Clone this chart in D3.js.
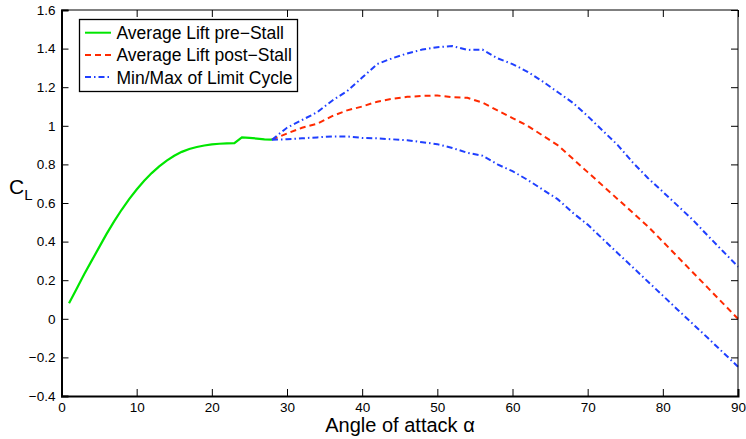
<!DOCTYPE html>
<html><head><meta charset="utf-8">
<script src="https://cdn.jsdelivr.net/npm/d3@7"></script>
<style>body{margin:0;background:#fff}svg{display:block}text{font-family:"Liberation Sans",Arial,Helvetica,sans-serif}</style>
</head><body>
<svg id="c" width="746" height="439"></svg>
<script>
const preX = [1,2,3,4,5,6,7,8,9,10,11,12,13,14,15,16,17,18,19,20,21,22,23,24,25,26,27,28];
const preY = [0.08,0.155,0.23,0.30,0.37,0.44,0.505,0.565,0.62,0.67,0.715,0.755,0.79,0.82,0.845,0.865,0.88,0.89,0.898,0.904,0.907,0.909,0.91,0.94,0.937,0.934,0.93,0.928];
const postX = [28,30,32,34,36,38,40,42,44,46,48,50,52,54,56,58,60,62,64,66,68,70,72,74,76,78,80,82,84,86,88,90];
const avgY = [0.928,0.96,0.99,1.01,1.05,1.08,1.10,1.125,1.14,1.15,1.155,1.157,1.148,1.145,1.12,1.08,1.04,1.0,0.95,0.90,0.83,0.76,0.69,0.62,0.55,0.479,0.40,0.32,0.24,0.16,0.08,0.0];
const maxY = [0.928,0.99,1.03,1.07,1.13,1.18,1.25,1.32,1.35,1.375,1.395,1.407,1.413,1.393,1.395,1.35,1.32,1.28,1.23,1.175,1.12,1.05,0.975,0.90,0.81,0.73,0.658,0.585,0.512,0.43,0.35,0.27];
const minY = [0.928,0.93,0.935,0.94,0.945,0.945,0.937,0.935,0.93,0.925,0.915,0.905,0.885,0.86,0.845,0.80,0.765,0.72,0.67,0.62,0.55,0.488,0.414,0.34,0.267,0.193,0.12,0.046,-0.027,-0.10,-0.174,-0.248];
const xTicks = [0,10,20,30,40,50,60,70,80,90];
const yTicks = [-0.4,-0.2,0,0.2,0.4,0.6,0.8,1,1.2,1.4,1.6];
const legendLabels = ["Average Lift pre\u2212Stall","Average Lift post\u2212Stall","Min/Max of Limit Cycle"];

const svg = d3.select("#c");
const L=61.5, R=738, T=10, B=396;
const x = d3.scaleLinear().domain([0,90]).range([L,R]);
const y = d3.scaleLinear().domain([-0.4,1.6]).range([B,T]);
const fmt = v => (v<0?"\u2212":"") + String(Math.abs(+v.toFixed(1)));

const green="#00e600", red="#ff2a00", blue="#1f3fff";
const line = d3.line().x(d=>x(d[0])).y(d=>y(d[1]));
const plot = svg.append("g");
plot.append("path").datum(preX.map((v,i)=>[v,preY[i]])).attr("d",line)
  .attr("fill","none").attr("stroke",green).attr("stroke-width",2.2);
plot.append("path").datum(postX.map((v,i)=>[v,avgY[i]])).attr("d",line)
  .attr("fill","none").attr("stroke",red).attr("stroke-width",2).attr("stroke-dasharray","6,4");
[maxY,minY].forEach(arr=>{
  plot.append("path").datum(postX.map((v,i)=>[v,arr[i]])).attr("d",line)
    .attr("fill","none").attr("stroke",blue).attr("stroke-width",2).attr("stroke-dasharray","6,3,1.5,3");
});

// axes box
const ax = svg.append("g");
ax.append("line").attr("x1",L).attr("x2",R).attr("y1",T).attr("y2",T).attr("stroke","#000").attr("stroke-width",1);
ax.append("line").attr("x1",R).attr("x2",R).attr("y1",T).attr("y2",B).attr("stroke","#000").attr("stroke-width",1);
const gx = svg.append("g").attr("transform",`translate(0,${B})`)
  .call(d3.axisBottom(x).tickValues(xTicks).tickSize(-7).tickPadding(10).tickFormat(d=>d));
const gy = svg.append("g").attr("transform",`translate(${L},0)`)
  .call(d3.axisLeft(y).tickValues(yTicks).tickSize(-7).tickPadding(6).tickFormat(fmt));
const gxt = svg.append("g").attr("transform",`translate(0,${T})`)
  .call(d3.axisBottom(x).tickValues(xTicks).tickSize(7).tickFormat(""));
const gyr = svg.append("g").attr("transform",`translate(${R},0)`)
  .call(d3.axisLeft(y).tickValues(yTicks).tickSize(7).tickFormat(""));
[gxt,gyr].forEach(g=>{g.select(".domain").remove();g.selectAll("line").attr("stroke","#000");});
[gx,gy].forEach(g=>{
  g.select(".domain").attr("stroke","#000").attr("stroke-width",2);
  g.selectAll("text").attr("font-size",13.5).attr("fill","#000").style("font-family",'"Liberation Sans",Arial,sans-serif');
  g.selectAll(".tick line").attr("stroke","#000");
});
gx.selectAll("text").attr("dy","0.71em").attr("y",6);

// axis labels
svg.append("text").attr("x",400).attr("y",432).attr("text-anchor","middle").attr("font-size",20).text("Angle of attack \u03b1");
const cl = svg.append("text").attr("x",9).attr("y",194).attr("font-size",21);
cl.append("tspan").text("C");
cl.append("tspan").attr("font-size",15).attr("dy",6).text("L");

// legend
const lg = svg.append("g");
lg.append("rect").attr("x",79.5).attr("y",19.5).attr("width",218).attr("height",72)
  .attr("fill","#fff").attr("stroke","#000").attr("stroke-width",1.3);
const styles=[{c:green,d:null},{c:red,d:"6,4"},{c:blue,d:"6,3,1.5,3"}];
legendLabels.forEach((t,i)=>{
  const yy = 32.7 + i*22.2;
  lg.append("line").attr("x1",85).attr("x2",111).attr("y1",yy).attr("y2",yy)
    .attr("stroke",styles[i].c).attr("stroke-width",2).attr("stroke-dasharray",styles[i].d);
  lg.append("text").attr("x",116.5).attr("y",yy+6.4).attr("font-size",17.5).text(t);
});
</script>
</body></html>
